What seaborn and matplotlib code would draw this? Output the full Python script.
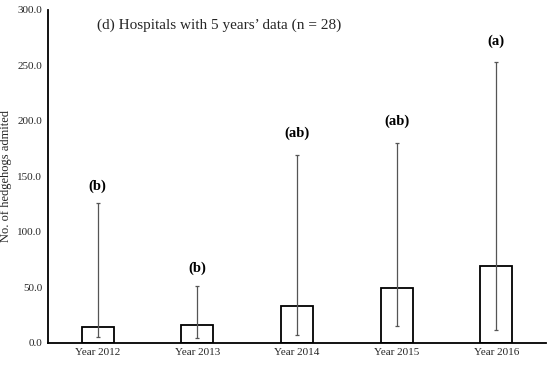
import matplotlib
matplotlib.use("Agg")
import matplotlib.pyplot as plt
from matplotlib.ticker import FormatStrFormatter
import numpy as np
import pandas as pd
import seaborn as sns

# 数据
years = ["Year 2012", "Year 2013", "Year 2014", "Year 2015", "Year 2016"]
median_admitted = [14.4, 15.9, 33.0, 49.5, 69.0]
range_low = [5.7, 4.5, 7.2, 15.3, 11.7]
range_high = [126.0, 51.0, 169.0, 180.5, 253.5]
sig_letters = ["(b)", "(b)", "(ab)", "(ab)", "(a)"]
letter_pos = [141.0, 67.0, 189.0, 200.0, 272.0]

sns.set_theme(style="white")
plt.rcParams["font.family"] = ["Liberation Serif", "DejaVu Serif"]

df = pd.DataFrame({"year": years, "value": median_admitted})

fig = plt.figure(figsize=(5.5, 3.66), dpi=100)
ax = fig.add_axes([0.087, 0.063, 0.906, 0.91])

sns.barplot(data=df, x="year", y="value", ax=ax, color="white",
            edgecolor="black", linewidth=1.3, width=0.32, errorbar=None)

vals = np.array(median_admitted)
yerr = np.vstack([vals - np.array(range_low), np.array(range_high) - vals])
ax.errorbar(np.arange(len(years)), vals, yerr=yerr, fmt="none",
            ecolor="#555555", elinewidth=0.9, capsize=1.5, capthick=0.9)

for i, (lab, yp) in enumerate(zip(sig_letters, letter_pos)):
    ax.text(i, yp, lab, ha="center", va="center", fontsize=10.5,
            fontweight="bold", color="black")

ax.text(0.098, 0.955, "(d) Hospitals with 5 years\u2019 data (n = 28)",
        transform=ax.transAxes, ha="left", va="center", fontsize=11)

ax.set_xlim(-0.5, 4.5)
ax.set_ylim(0, 300)
ax.set_yticks(np.arange(0, 301, 50))
ax.yaxis.set_major_formatter(FormatStrFormatter("%.1f"))
ax.tick_params(axis="both", length=0, labelsize=8, pad=4)
ax.set_xlabel("")
ax.set_ylabel("No. of hedgehogs admited", fontsize=9)
ax.yaxis.set_label_coords(-0.072, 0.5)

for s in ["top", "right"]:
    ax.spines[s].set_visible(False)
for s in ["left", "bottom"]:
    ax.spines[s].set_color("black")
    ax.spines[s].set_linewidth(1.3)

fig.savefig("out.png", dpi=100)
